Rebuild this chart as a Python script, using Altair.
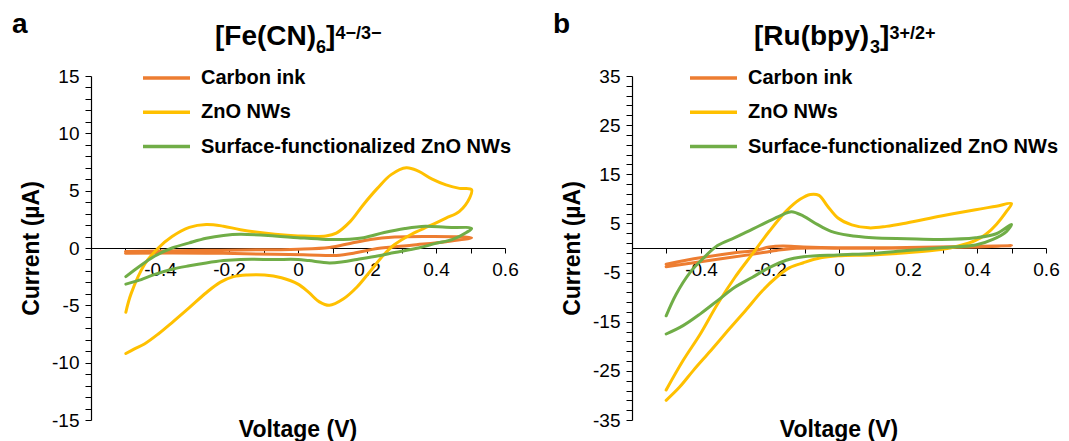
import altair as alt
import pandas as pd

# ---------------- data ----------------
series = ["Carbon ink", "ZnO NWs", "Surface-functionalized ZnO NWs"]
colors = ["#ED7D31", "#FFC000", "#70AD47"]

# Panel a: [Fe(CN)6]4-/3-
fe_carbon_v = [-0.5, -0.266, 0.0, 0.091, 0.151, 0.210, 0.280, 0.379, 0.503,
               0.429, 0.329, 0.230, 0.171, 0.111, 0.032, -0.067, -0.266, -0.5]
fe_carbon_i = [-0.3, -0.2, -0.1, 0.05, 0.4, 0.75, 0.95, 1.0, 0.9,
               0.55, 0.25, -0.05, -0.4, -0.65, -0.6, -0.55, -0.45, -0.45]

fe_zno_v = [-0.499, -0.484, -0.444, -0.405, -0.365, -0.315, -0.266, -0.216, -0.167, -0.067,
            0.0, 0.081, 0.111, 0.151, 0.190, 0.230, 0.270, 0.314, 0.349, 0.389, 0.429, 0.468, 0.503,
            0.498, 0.468, 0.429, 0.379, 0.329, 0.280, 0.250, 0.210, 0.171, 0.131, 0.091, 0.062,
            0.032, 0.0, -0.048, -0.097, -0.147, -0.187, -0.226, -0.266, -0.315, -0.365, -0.405,
            -0.444, -0.474, -0.499]
fe_zno_i = [-5.6, -4.0, -1.4, 0.0, 1.0, 1.8, 2.05, 1.9, 1.6, 1.2,
            1.05, 1.05, 1.3, 2.3, 3.8, 5.2, 6.4, 7.0, 6.7, 6.0, 5.5, 5.2, 5.1,
            4.4, 3.2, 2.6, 1.9, 1.2, 0.3, -0.55, -2.0, -3.4, -4.45, -5.0, -4.7,
            -3.9, -3.15, -2.6, -2.35, -2.35, -2.5, -3.0, -3.9, -5.2, -6.5, -7.5,
            -8.35, -8.8, -9.2]

fe_sf_v = [-0.499, -0.464, -0.415, -0.365, -0.315, -0.266, -0.216, -0.167, -0.067, 0.0,
           0.081, 0.131, 0.190, 0.250, 0.310, 0.369, 0.429, 0.503,
           0.488, 0.448, 0.399, 0.349, 0.280, 0.230, 0.171, 0.131, 0.091, 0.032, 0.0,
           -0.067, -0.167, -0.216, -0.266, -0.315, -0.365, -0.415, -0.464, -0.499]
fe_sf_i = [-2.5, -1.7, -0.7, 0.0, 0.45, 0.85, 1.1, 1.2, 1.05, 0.9,
           0.75, 0.75, 0.9, 1.35, 1.7, 1.9, 1.8, 1.7,
           1.35, 0.75, 0.4, 0.0, -0.4, -0.7, -1.0, -1.2, -1.3, -1.1, -1.0,
           -1.0, -1.0, -1.1, -1.3, -1.55, -1.85, -2.3, -2.85, -3.15]

# Panel b: [Ru(bpy)3]3+/2+
ru_carbon_v = [-0.501, -0.402, -0.302, -0.242, -0.202, -0.163, -0.103, -0.003, 0.196, 0.500,
               0.396, 0.196, -0.003, -0.123, -0.182, -0.252, -0.352, -0.501]
ru_carbon_i = [-3.3, -2.0, -0.95, -0.5, 0.2, 0.4, 0.2, 0.05, 0.1, 0.45,
               0.2, 0.0, -0.05, -0.05, -0.5, -1.3, -2.3, -3.8]

ru_zno_v = [-0.501, -0.452, -0.402, -0.352, -0.302, -0.252, -0.202, -0.153, -0.113, -0.083,
            -0.058, -0.033, -0.003, 0.037, 0.087, 0.137, 0.196, 0.296, 0.396, 0.456, 0.500,
            0.486, 0.456, 0.426, 0.396, 0.346, 0.296, 0.196, 0.097, -0.003, -0.053, -0.103,
            -0.143, -0.182, -0.222, -0.272, -0.322, -0.372, -0.422, -0.462, -0.501]
ru_zno_i = [-28.9, -22.9, -17.5, -11.4, -6.0, -1.3, 3.4, 7.5, 9.9, 10.9,
            10.7, 8.5, 6.1, 4.7, 4.1, 4.4, 5.1, 6.5, 7.8, 8.5, 9.05,
            7.5, 4.8, 2.8, 1.55, 0.4, -0.3, -0.95, -1.4, -1.6, -2.0, -3.0,
            -4.0, -6.0, -8.7, -12.8, -16.8, -20.9, -24.9, -28.3, -31.0]

ru_sf_v = [-0.501, -0.472, -0.432, -0.392, -0.352, -0.302, -0.252, -0.202, -0.163, -0.138,
           -0.103, -0.063, -0.023, 0.027, 0.097, 0.196, 0.296, 0.396, 0.456, 0.500,
           0.486, 0.446, 0.396, 0.296, 0.196, 0.097, -0.003, -0.103, -0.153, -0.202,
           -0.252, -0.302, -0.352, -0.402, -0.452, -0.501]
ru_sf_i = [-13.8, -9.4, -5.0, -2.0, 0.5, 2.1, 3.8, 5.5, 6.8, 7.4,
           6.5, 4.8, 3.4, 2.6, 2.1, 1.9, 1.75, 2.1, 2.9, 4.8,
           3.4, 1.75, 0.6, 0.05, -0.5, -1.1, -1.4, -1.8, -2.5, -4.0,
           -6.0, -8.0, -10.7, -13.4, -15.8, -17.5]

x_ticks = [-0.6, -0.5, -0.4, -0.3, -0.2, -0.1, 0.0, 0.1, 0.2, 0.3, 0.4, 0.5, 0.6]
fe_y_ticks = list(range(-15, 16, 1))
ru_y_ticks = list(range(-35, 36, 2))

FONT = "Liberation Sans"
W, H = 414, 344


def frame(pairs):
    rows = []
    for name, (vs, cs) in zip(series, pairs):
        for k, (v, c) in enumerate(zip(vs, cs)):
            rows.append({"series": name, "V": v, "I": c, "idx": k})
    return pd.DataFrame(rows)


def text_layer(txt, x, y, size, align="left", weight="bold"):
    return alt.Chart(pd.DataFrame({"t": [txt]})).mark_text(
        font=FONT, fontSize=size, fontWeight=weight, align=align,
        baseline="alphabetic", color="black"
    ).encode(text="t:N", x=alt.value(x), y=alt.value(y))


def panel(df, ydom, yticks, ylabel_expr, legend_x, letter, t_main, t_sub, t_close, t_sup,
          tx, w_main):
    lines = alt.Chart(df).mark_line(
        interpolate="catmull-rom", strokeWidth=3, strokeCap="round", strokeJoin="round"
    ).encode(
        x=alt.X("V:Q", scale=alt.Scale(domain=[-0.6, 0.6], nice=False, zero=False),
                axis=alt.Axis(values=x_ticks, title=None, offset=-H / 2,
                              labelExpr="datum.value > -0.55 && abs(round(datum.value*10)) % 2 == 0 ? '' + round(datum.value*10)/10 : ''",
                              labelOverlap=False, labelFlush=False, grid=False,
                              tickSize=5, tickColor="black", domainColor="black",
                              domainWidth=1.2, labelFont=FONT, labelFontSize=19,
                              labelColor="black", labelPadding=7)),
        y=alt.Y("I:Q", scale=alt.Scale(domain=ydom, nice=False, zero=False),
                axis=alt.Axis(values=yticks, title="Current (µA)",
                              labelExpr=ylabel_expr, labelOverlap=False, grid=False,
                              tickSize=6, tickColor="black", domainColor="black",
                              domainWidth=1.2, labelFont=FONT, labelFontSize=19,
                              labelColor="black", labelPadding=6,
                              titleFont=FONT, titleFontSize=23, titleFontWeight="bold",
                              titleColor="black", titlePadding=8)),
        color=alt.Color("series:N", scale=alt.Scale(domain=series, range=colors),
                        legend=alt.Legend(orient="none", legendX=legend_x, legendY=-8,
                                          title=None, symbolType="stroke", symbolSize=2209,
                                          symbolStrokeWidth=3.5, clipHeight=20,
                                          rowPadding=14.3, labelFont=FONT, labelFontSize=20,
                                          labelFontWeight="bold", labelColor="black",
                                          labelOffset=9, labelLimit=600, padding=0)),
        order=alt.Order("idx:Q"),
    )
    sub_w = 10
    close_w = 9.5
    layers = [
        lines,
        text_layer(letter, -79, -43, 28),
        text_layer(t_main, tx, -31, 28),
        text_layer(t_sub, tx + w_main, -23, 18),
        text_layer(t_close, tx + w_main + sub_w, -31, 28),
        text_layer(t_sup, tx + w_main + sub_w + close_w, -37, 18),
        text_layer("Voltage (V)", W / 2, 361, 23, align="center"),
    ]
    return alt.layer(*layers).properties(width=W, height=H)


left = panel(frame([(fe_carbon_v, fe_carbon_i), (fe_zno_v, fe_zno_i), (fe_sf_v, fe_sf_i)]),
             [-15, 15], fe_y_ticks, "datum.value % 5 == 0 ? '' + datum.value : ''",
             50, "a", "[Fe(CN)", "6", "]", "4−/3−", 124, 101)
right = panel(frame([(ru_carbon_v, ru_carbon_i), (ru_zno_v, ru_zno_i), (ru_sf_v, ru_sf_i)]),
              [-35, 35], ru_y_ticks, "(datum.value + 35) % 10 == 0 ? '' + datum.value : ''",
              56, "b", "[Ru(bpy)", "3", "]", "3+/2+", 122, 116)

chart = alt.hconcat(left, right, spacing=127, bounds="flush").resolve_scale(
    color="independent"
).properties(
    padding={"left": 4, "top": 3, "right": 0, "bottom": 0},
).configure_view(stroke=None)

chart.save("out.html", embed_options={"renderer": "svg", "actions": False})
